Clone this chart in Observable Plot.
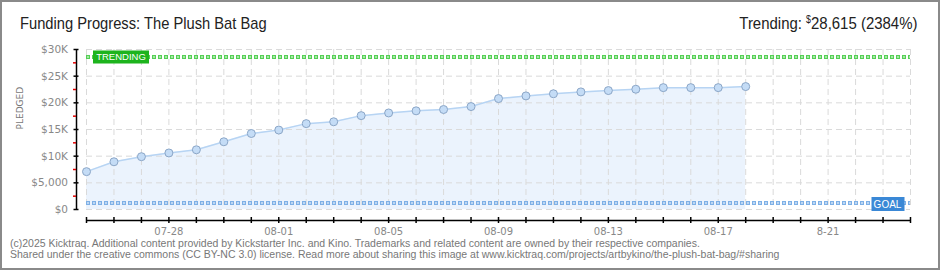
<!DOCTYPE html>
<html>
<head>
<meta charset="utf-8">
<script src="https://cdn.jsdelivr.net/npm/d3@7"></script>
<script src="https://cdn.jsdelivr.net/npm/@observablehq/plot@0.6"></script>
<style>
  html, body { margin: 0; padding: 0; background: #fff; }
  #wrap { position: relative; width: 940px; height: 270px; overflow: hidden; background: #fff; }
  #border { position: absolute; left: 0; top: 0; width: 940px; height: 270px; box-sizing: border-box; border: 2px solid #8a8a8a; pointer-events: none; }
  #chart { position: absolute; left: 0; top: 0; }
  #title { position: absolute; left: 20px; top: 14px; font: 17px/20px "Liberation Sans", sans-serif; color: #222; white-space: nowrap; transform: scaleX(0.865); transform-origin: 0 0; }
  #trend { position: absolute; right: 23px; top: 14px; font: 17px/20px "Liberation Sans", sans-serif; color: #222; white-space: nowrap; transform: scaleX(0.88); transform-origin: 100% 0; }
  #trend sup { font-size: 10px; vertical-align: 6px; line-height: 0; }
  #foot { position: absolute; left: 10px; top: 237.5px; font: 10.5px/11.5px "Liberation Sans", sans-serif; color: #777; white-space: nowrap; }
  g[aria-label="pledged-label"] text { letter-spacing: 1.5px; }
</style>
</head>
<body>
<div id="wrap">
  <div id="title"></div>
  <div id="trend"></div>
  <div id="chart"></div>
  <div id="foot"></div>
  <div id="border"></div>
</div>
<script>
// ---- data ----
const titleText = "Funding Progress: The Plush Bat Bag";
const dates = ["2025-07-25","2025-07-26","2025-07-27","2025-07-28","2025-07-29","2025-07-30","2025-07-31",
  "2025-08-01","2025-08-02","2025-08-03","2025-08-04","2025-08-05","2025-08-06","2025-08-07","2025-08-08",
  "2025-08-09","2025-08-10","2025-08-11","2025-08-12","2025-08-13","2025-08-14","2025-08-15","2025-08-16",
  "2025-08-17","2025-08-18"];
const pledged = [7100, 8950, 9900, 10600, 11200, 12700, 14250,
  14900, 16100, 16450, 17600, 18100, 18500, 18750, 19300,
  20800, 21300, 21700, 22050, 22300, 22550, 22850, 22850,
  22850, 23050];
const axisStart = "2025-07-25";
const axisEnd = "2025-08-24";
const xTickDates = ["2025-07-28","2025-08-01","2025-08-05","2025-08-09","2025-08-13","2025-08-17","2025-08-21"];
const xTickLabels = ["07-28","08-01","08-05","08-09","08-13","08-17","8-21"];
const yTicks = [0, 5000, 10000, 15000, 20000, 25000, 30000];
const yTickLabels = ["$0","$5,000","$10K","$15K","$20K","$25K","$30K"];
const yMinorTicks = [2500, 7500, 12500, 17500, 22500, 27500];
const goal = 1200;
const trending = 28615;
const trendingPct = 2384;
const footerLines = [
  "(c)2025 Kicktraq. Additional content provided by Kickstarter Inc. and Kino. Trademarks and related content are owned by their respective companies.",
  "Shared under the creative commons (CC BY-NC 3.0) license. Read more about sharing this image at www.kicktraq.com/projects/artbykino/the-plush-bat-bag/#sharing"
];

// ---- build ----
const parse = d => new Date(d + "T00:00:00Z");
const data = dates.map((d, i) => ({date: parse(d), value: pledged[i]}));
const x0 = parse(axisStart), x1 = parse(axisEnd);
const allDays = d3.utcDay.range(x0, d3.utcDay.offset(x1, 1));
const xLabelDates = xTickDates.map(parse);

document.getElementById("title").textContent = titleText;
document.getElementById("trend").innerHTML = "Trending: <sup>$</sup>" + d3.format(",")(trending) + " (" + trendingPct + "%)";
document.getElementById("foot").innerHTML = footerLines.map(s => "<div>" + s + "</div>").join("");

const boxSymbol = (w, h) => ({ draw(ctx) { ctx.rect(-w / 2, -h / 2, w, h); } });

const chart = Plot.plot({
  width: 940,
  height: 270,
  marginLeft: 86,
  marginRight: 30,
  marginTop: 49,
  marginBottom: 61,
  style: { background: "transparent", fontFamily: "DejaVu Sans", fontSize: "10px", overflow: "visible" },
  x: { type: "utc", domain: [x0, x1] },
  y: { domain: [yTicks[0], yTicks[yTicks.length - 1]] },
  marks: [
    // area
    Plot.areaY(data, { x: "date", y: "value", fill: "#ebf3fd" }),
    // grid
    Plot.gridY(yTicks, { stroke: "#dadada", strokeOpacity: 1, strokeDasharray: "6,4" }),
    Plot.gridX(allDays, { stroke: "#dadada", strokeOpacity: 1, strokeDasharray: "6,4" }),
    // goal line
    Plot.ruleY([goal], { x1: x0, x2: x1, stroke: "#7eb0e6", strokeWidth: 4, strokeDasharray: "4,2" }),
    Plot.ruleY([goal], { x1: x0, x2: x1, stroke: "#d2e4f7", strokeWidth: 1.5, strokeDasharray: "2,4", strokeDashoffset: -1 }),
    // trending line
    Plot.ruleY([trending], { x1: x0, x2: x1, stroke: "#55cf55", strokeWidth: 4, strokeDasharray: "4,2" }),
    Plot.ruleY([trending], { x1: x0, x2: x1, stroke: "#bff2bf", strokeWidth: 1.5, strokeDasharray: "2,4", strokeDashoffset: -1 }),
    // series
    Plot.lineY(data, { x: "date", y: "value", stroke: "#b7d4f3", strokeWidth: 1.5 }),
    Plot.dot(data, { x: "date", y: "value", r: 4, fill: "#c4dcf6", stroke: "#8ba6c7", strokeWidth: 1 }),
    // badges
    Plot.dot([trending], { x: () => x0, y: d => d, dx: 34.5, symbol: boxSymbol(56, 13), fill: "#1db41d", stroke: "none" }),
    Plot.text([trending], { x: () => x0, y: d => d, dx: 34.5, dy: 0.5, text: () => "TRENDING", fill: "white", fontSize: 9.5, fontFamily: "Liberation Sans" }),
    Plot.dot([goal], { x: () => x1, y: d => d, dx: -22.5, dy: 1, symbol: boxSymbol(33, 14), fill: "#3a88d6", stroke: "none" }),
    Plot.text([goal], { x: () => x1, y: d => d, dx: -23, dy: 1.5, text: () => "GOAL", fill: "white", fontSize: 10, fontFamily: "Liberation Sans" }),
    // y axis
    Plot.ruleX([x0], { dx: -10, y1: yTicks[0], y2: yTicks[yTicks.length - 1], stroke: "black", strokeWidth: 1.5 }),
    Plot.axisY(yTicks, { tickSize: 5, dx: -7.5, tickPadding: 6, tickFormat: (d, i) => yTickLabels[i], stroke: "black", strokeWidth: 1.5, fill: "#888", fontSize: 10.5, label: null }),
    Plot.axisY(yMinorTicks, { tickSize: 3, dx: -10, tickFormat: () => "", stroke: "#e00000", strokeWidth: 1.5, label: null }),
    Plot.text(["PLEDGED"], { frameAnchor: "left", dx: -66, rotate: -90, fill: "#777", fontSize: 9, ariaLabel: "pledged-label" }),
    // x axis
    Plot.ruleY([0], { x1: x0, x2: x1, dy: 11, stroke: "black", strokeWidth: 1.5 }),
    Plot.axisX(allDays, { tickSize: 6, dy: 8, tickFormat: () => "", stroke: "black", strokeWidth: 1.5, label: null }),
    Plot.axisX(xLabelDates, { tickSize: 0, dy: 15.5, tickPadding: 3, tickFormat: (d, i) => xTickLabels[i], fill: "#888", fontSize: 10, label: null })
  ]
});
document.getElementById("chart").appendChild(chart);
</script>
</body>
</html>
